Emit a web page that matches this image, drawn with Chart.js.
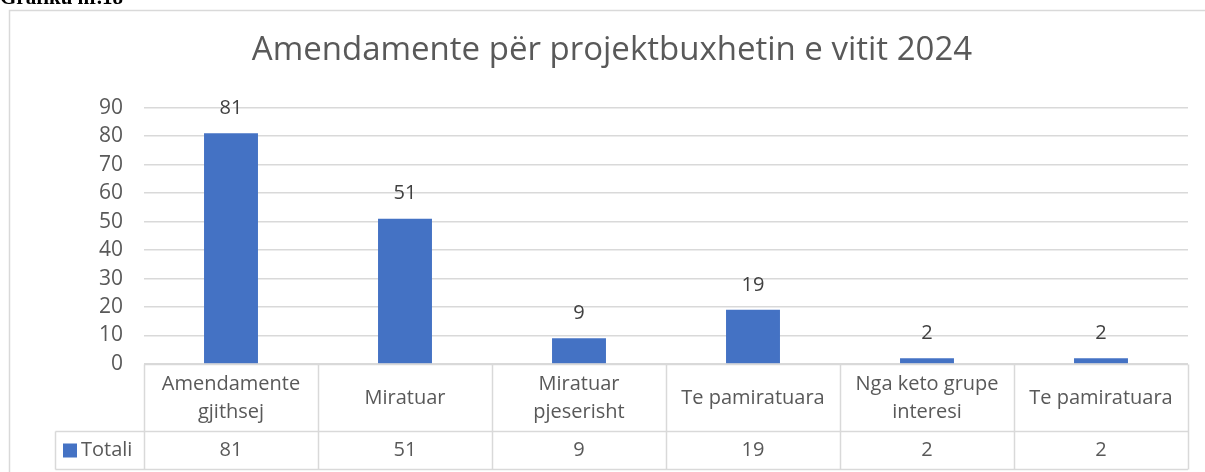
<!DOCTYPE html>
<html>
<head>
<meta charset="utf-8">
<script src="https://cdn.jsdelivr.net/npm/chart.js@4"></script>
<style>
  html, body { margin: 0; padding: 0; background: #fff; overflow: hidden; }
  #wrap { position: relative; width: 1205px; height: 472px; }
  #caption { position: absolute; left: 0; top: -15px; font: bold 21px "Liberation Serif", serif; color: #000; }
</style>
</head>
<body>
<div id="wrap">
  <div id="caption">Grafiku nr.18</div>
  <canvas id="mycanvas" width="1205" height="472"></canvas>
</div>
<script>
var chartTitle = 'Amendamente për projektbuxhetin e vitit 2024';
var categories = [
  ['Amendamente', 'gjithsej'],
  ['Miratuar'],
  ['Miratuar', 'pjeserisht'],
  ['Te pamiratuara'],
  ['Nga keto grupe', 'interesi'],
  ['Te pamiratuara']
];
var seriesName = 'Totali';
var totali = [81, 51, 9, 19, 2, 2];
var yTicks = [0, 10, 20, 30, 40, 50, 60, 70, 80, 90];

var fontFam = '"Open Sans", "Noto Sans", sans-serif';
var gridCol = '#d9d9d9';
var barCol = '#4472C4';

// value labels above the bars
var valueLabels = {
  id: 'valueLabels',
  afterDatasetsDraw: function(chart) {
    var ctx = chart.ctx;
    var meta = chart.getDatasetMeta(0);
    ctx.save();
    ctx.font = '20px ' + fontFam;
    ctx.fillStyle = '#404040';
    ctx.textAlign = 'center';
    ctx.textBaseline = 'middle';
    meta.data.forEach(function(bar, i) {
      ctx.fillText(String(totali[i]), bar.x, bar.y - 25);
    });
    ctx.restore();
  }
};

// frame + data table under the plot
var dataTable = {
  id: 'dataTable',
  beforeDraw: function(chart) {
    var ctx = chart.ctx;
    ctx.save();
    ctx.strokeStyle = gridCol;
    ctx.lineWidth = 1.5;
    ctx.strokeRect(9.5, 10.5, 1300, 600);
    ctx.restore();
  },
  afterDraw: function(chart) {
    var ctx = chart.ctx;
    var x = chart.scales.x;
    var area = chart.chartArea;
    var top = Math.round(area.bottom) + 0.5;
    var mid = top + 67;
    var bot = mid + 38;
    var legLeft = 55.5;
    var left = area.left, right = area.right;
    var step = (right - left) / categories.length;

    ctx.save();
    ctx.strokeStyle = gridCol;
    ctx.lineWidth = 1.5;
    ctx.beginPath();
    ctx.moveTo(left, top); ctx.lineTo(right, top);
    ctx.moveTo(legLeft, mid); ctx.lineTo(right, mid);
    ctx.moveTo(legLeft, bot); ctx.lineTo(right, bot);
    ctx.moveTo(legLeft, mid); ctx.lineTo(legLeft, bot);
    for (var i = 0; i <= categories.length; i++) {
      var lx = Math.round(left + step * i) + 0.5;
      ctx.moveTo(lx, top); ctx.lineTo(lx, bot);
    }
    ctx.stroke();

    ctx.font = '20px ' + fontFam;
    ctx.fillStyle = '#595959';
    ctx.textAlign = 'center';
    ctx.textBaseline = 'middle';
    categories.forEach(function(lines, i) {
      var cx = x.getPixelForValue(i);
      var cy = (top + mid) / 2;
      var lh = 28;
      lines.forEach(function(t, k) {
        ctx.fillText(t, cx, cy + (k - (lines.length - 1) / 2) * lh);
      });
      ctx.fillText(String(totali[i]), cx, (mid + bot) / 2);
    });

    // legend key
    ctx.fillStyle = barCol;
    ctx.fillRect(63, (mid + bot) / 2 - 7, 14, 14);
    ctx.fillStyle = '#595959';
    ctx.textAlign = 'left';
    ctx.fillText(seriesName, 81, (mid + bot) / 2);
    ctx.restore();
  }
};

var ctx = document.getElementById('mycanvas');
var barGraph = new Chart(ctx, {
  type: 'bar',
  data: {
    labels: categories.map(function(c) { return c.join(' '); }),
    datasets: [{
      label: seriesName,
      data: totali,
      backgroundColor: barCol,
      barPercentage: 0.31,
      categoryPercentage: 1
    }]
  },
  options: {
    responsive: false,
    animation: false,
    layout: { padding: { left: 36, right: 17, top: 0, bottom: 100 } },
    plugins: {
      legend: { display: false },
      tooltip: { enabled: false },
      title: {
        display: true,
        text: chartTitle,
        color: '#595959',
        font: { family: fontFam, size: 33, weight: 'normal', lineHeight: 1.2 },
        padding: { top: 31, bottom: 37 }
      }
    },
    scales: {
      x: {
        ticks: { display: false },
        grid: { display: false },
        border: { display: false }
      },
      y: {
        min: 0,
        max: 90,
        afterBuildTicks: function(scale) {
          scale.ticks = yTicks.map(function(v) { return { value: v }; });
        },
        afterFit: function(scale) { scale.width = 108; },
        ticks: {
          color: '#595959',
          font: { family: fontFam, size: 21 },
          padding: 21
        },
        grid: { color: gridCol, lineWidth: 1.5, drawTicks: false },
        border: { display: false }
      }
    }
  },
  plugins: [valueLabels, dataTable]
});
</script>
</body>
</html>
